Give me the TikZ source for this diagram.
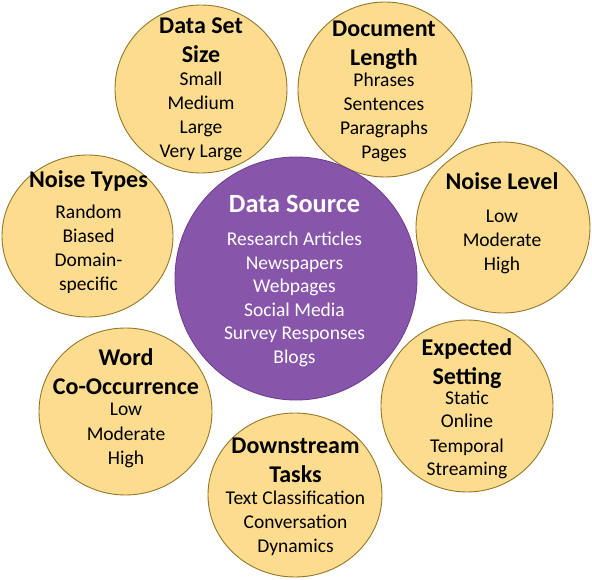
\documentclass[tikz,border=0pt]{standalone}
\usepackage{fontspec}
\setmainfont{Carlito}
\usetikzlibrary{shapes.geometric}

\definecolor{petalfill}{RGB}{252,220,142}
\definecolor{petaledge}{RGB}{150,118,40}
\definecolor{hubfill}{RGB}{135,86,170}
\definecolor{hubedge}{RGB}{112,64,150}

% title lines of a petal (bold, larger)
\newcommand\petaltitle[1]{{\fontsize{24}{29}\selectfont\bfseries #1\par}}
\newcommand\hubtitle[1]{{\fontsize{26.3}{30}\selectfont\bfseries #1\par}}

\begin{document}
\begin{tikzpicture}[x=1pt,y=-1pt,
  petal/.style={ellipse, fill=petalfill, draw=petaledge, line width=0.9pt, inner sep=0pt},
  hubdisc/.style={ellipse, fill=hubfill, draw=hubedge, line width=0.9pt, inner sep=0pt},
  petaltext/.style={text width=180pt, align=flush center, anchor=base, inner sep=0pt,
    font=\fontsize{19.5}{24}\selectfont},
  hubtext/.style={text width=230pt, align=flush center, anchor=base, inner sep=0pt,
    text=white, font=\fontsize{19.5}{23.6}\selectfont}]
\useasboundingbox (0,0) rectangle (592,580);

% petals around the hub
\node[petal, minimum width=172pt, minimum height=168pt] (size)    at (201,89)    {};
\node[petal, minimum width=174pt, minimum height=175pt] (length)  at (385,89.5)  {};
\node[petal, minimum width=174pt, minimum height=171pt] (level)   at (503,227.5) {};
\node[petal, minimum width=172pt, minimum height=172pt] (setting) at (467,406)   {};
\node[petal, minimum width=174pt, minimum height=164pt] (tasks)   at (295,495)   {};
\node[petal, minimum width=173pt, minimum height=167pt] (cooc)    at (125.5,411.5) {};
\node[petal, minimum width=171pt, minimum height=162pt] (ntypes)  at (87.5,236)  {};

% central hub
\node[hubdisc, minimum width=242pt, minimum height=243pt] (hub) at (296,278.5) {};

% petal texts
\node[petaltext] (sizetxt) at (201,34)
  {\petaltitle{Data Set\\Size}\vspace{-1pt}Small\\Medium\\Large\\Very Large};
\node[petaltext] (lengthtxt) at (384,37)
  {\petaltitle{Document\\Length}\vspace{-3pt}Phrases\\Sentences\\Paragraphs\\Pages};
\node[petaltext] (leveltxt) at (502,190)
  {\petaltitle{Noise Level}\vspace{9pt}Low\\Moderate\\High};
\node[petaltext] (settingtxt) at (467,355)
  {\petaltitle{Expected\\Setting}\vspace{-4pt}Static\\Online\\Temporal\\Streaming};
\node[petaltext] (taskstxt) at (295.5,453)
  {\petaltitle{Downstream\\Tasks}\vspace{-2pt}Text Classification\\Conversation\\Dynamics};
\node[petaltext] (cooctxt) at (126,365)
  {\petaltitle{Word\\Co-Occurrence}\vspace{-2pt}Low\\Moderate\\High};
\node[petaltext] (ntypestxt) at (88.5,188)
  {\petaltitle{Noise Types}\vspace{7pt}Random\\Biased\\Domain-\\specific};

% hub text
\node[hubtext] (hubtxt) at (294.5,213)
  {\hubtitle{Data Source}\vspace{9pt}Research Articles\\Newspapers\\Webpages\\Social Media\\Survey Responses\\Blogs};
\end{tikzpicture}
\end{document}
